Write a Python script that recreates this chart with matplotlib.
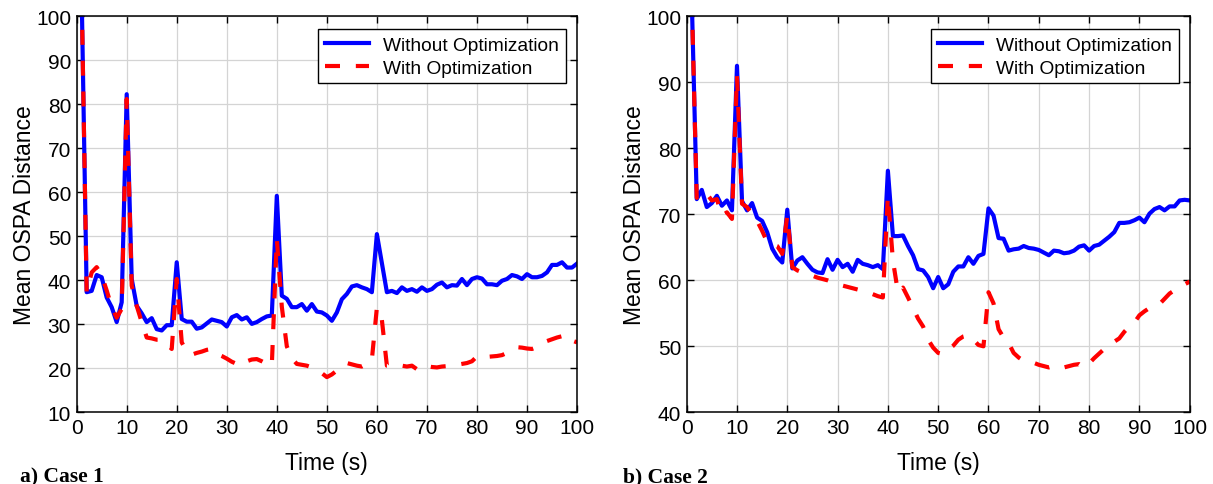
import numpy as np
import matplotlib
matplotlib.use("Agg")
import matplotlib.pyplot as plt

plt.rcParams['font.family'] = ['Liberation Sans', 'DejaVu Sans']

# time samples (s)
time = np.arange(1, 101)

# Case 1
case1_without = [
    105, 37.3, 37.6, 41.2, 40.7, 36.1, 33.9, 30.5, 35.0, 82.3,
    40.3, 34.2, 32.5, 30.5, 31.4, 28.9, 28.6, 29.8, 29.8, 44.1,
    31.2, 30.6, 30.6, 29.0, 29.3, 30.2, 31.1, 30.8, 30.5, 29.5,
    31.6, 32.1, 31.1, 31.6, 30.1, 30.5, 31.2, 31.8, 32.0, 59.2,
    36.5, 35.8, 33.9, 33.9, 34.6, 33.1, 34.6, 32.9, 32.7, 32.0,
    30.8, 32.7, 35.7, 36.9, 38.6, 38.9, 38.4, 38.0, 37.3, 50.5,
    43.9, 37.3, 37.6, 37.1, 38.4, 37.6, 38.0, 37.4, 38.4, 37.6,
    38.0, 39.0, 39.5, 38.4, 38.9, 38.8, 40.3, 38.9, 40.3, 40.7,
    40.4, 39.1, 39.1, 38.9, 39.9, 40.3, 41.2, 40.9, 40.3, 41.4,
    40.7, 40.7, 41.0, 41.8, 43.5, 43.5, 44.1, 42.9, 42.9, 43.8,
]
case1_with = [
    105, 37.3, 41.8, 43.0, 41.1, 37.7, 33.9, 31.5, 33.5, 81.2,
    38.8, 34.2, 30.5, 27.0, 26.8, 26.5, 26.5, 25.5, 24.4, 40.3,
    25.9, 23.8, 23.1, 23.5, 23.8, 24.2, 24.4, 23.3, 22.8, 22.2,
    21.5, 21.0, 20.6, 21.6, 22.0, 22.1, 21.6, 21.0, 20.6, 49.4,
    34.0, 25.0, 22.3, 21.0, 20.8, 20.6, 20.2, 19.5, 18.9, 18.0,
    18.6, 19.5, 20.4, 21.2, 20.9, 20.6, 20.4, 21.0, 22.0, 33.8,
    31.0, 20.6, 20.6, 20.6, 20.6, 20.4, 20.6, 19.8, 20.7, 20.5,
    20.3, 20.2, 20.4, 20.5, 20.6, 20.8, 21.0, 21.2, 21.6, 22.7,
    22.8, 22.6, 22.7, 22.8, 23.0, 23.5, 24.1, 24.8, 24.7, 24.5,
    24.4, 24.8, 25.5, 26.2, 26.6, 27.0, 27.3, 27.6, 26.3, 25.9,
]

# Case 2
case2_without = [
    103, 72.3, 73.7, 71.1, 71.7, 72.8, 71.3, 72.1, 70.6, 92.5,
    72.0, 70.6, 71.7, 69.5, 69.0, 67.3, 64.8, 63.5, 62.7, 70.7,
    61.8, 63.0, 63.5, 62.5, 61.6, 61.2, 61.1, 63.2, 61.6, 63.1,
    62.0, 62.5, 61.3, 63.1, 62.5, 62.3, 62.0, 62.3, 61.7, 76.6,
    66.7, 66.7, 66.8, 65.2, 63.8, 61.7, 61.5, 60.5, 58.8, 60.5,
    58.8, 59.4, 61.3, 62.1, 62.1, 63.5, 62.5, 63.7, 64.0, 70.9,
    69.8, 66.4, 66.3, 64.5, 64.7, 64.8, 65.2, 64.9, 64.8, 64.6,
    64.2, 63.8, 64.5, 64.4, 64.1, 64.2, 64.5, 65.1, 65.3, 64.5,
    65.2, 65.4, 66.0, 66.6, 67.3, 68.7, 68.7, 68.8, 69.1, 69.5,
    68.8, 70.1, 70.8, 71.1, 70.6, 71.2, 71.2, 72.1, 72.2, 72.1,
]
case2_with = [
    103, 72.5, 73.4, 73.1, 72.1, 72.3, 69.8, 70.3, 69.3, 91.0,
    71.6, 71.1, 70.0, 69.0, 67.5, 65.8, 65.5, 65.2, 64.0, 69.8,
    62.0, 61.5, 61.2, 61.0, 60.7, 60.4, 60.2, 60.0, 59.7, 59.4,
    59.2, 59.0, 58.8, 58.6, 58.4, 58.2, 57.9, 57.6, 57.4, 72.8,
    63.0, 58.2, 58.9, 57.4, 55.8, 54.2, 53.0, 51.0, 49.8, 49.0,
    48.8, 49.5, 50.1, 51.0, 51.5, 51.7, 51.0, 50.2, 50.0, 58.2,
    56.5, 52.6, 51.3, 50.5, 49.0, 48.3, 47.8, 47.7, 47.5, 47.2,
    47.0, 46.8, 47.0, 47.1, 46.8, 47.0, 47.2, 47.3, 46.8, 47.4,
    48.2, 48.9, 49.6, 50.2, 50.7, 51.2, 52.2, 53.0, 53.6, 54.7,
    55.3, 55.8, 56.0, 56.4, 57.2, 58.0, 58.5, 59.0, 59.4, 59.8,
]

fig = plt.figure(figsize=(12.13, 4.85), dpi=100)
ax1 = fig.add_axes([0.0632, 0.1478, 0.4125, 0.8165])
ax2 = fig.add_axes([0.5661, 0.1478, 0.4147, 0.8165])

panels = [
    (ax1, case1_without, case1_with, (10, 100), np.arange(10, 101, 10), 'a) Case 1'),
    (ax2, case2_without, case2_with, (40, 100), np.arange(40, 101, 10), 'b) Case 2'),
]

for ax, without, withopt, ylim, yticks, tag in panels:
    ax.plot(time, without, color='#0000ff', lw=3, label='Without Optimization')
    ax.plot(time, withopt, color='#ff0000', lw=3, dashes=(3.6, 3.8),
            label='With Optimization')
    ax.set_xlim(0, 100)
    ax.set_ylim(*ylim)
    ax.set_xticks(np.arange(0, 101, 10))
    ax.set_yticks(yticks)
    ax.grid(True, color='#d4d4d4', lw=0.9)
    ax.set_axisbelow(True)
    ax.tick_params(direction='in', top=True, right=True, length=5,
                   labelsize=15, width=1, pad=4)
    for s in ax.spines.values():
        s.set_linewidth(1.1)
    ax.set_xlabel('Time (s)', fontsize=16.5, labelpad=10)
    ax.set_ylabel('Mean OSPA Distance', fontsize=16.5, labelpad=0)
    leg = ax.legend(loc='upper right', bbox_to_anchor=(0.978, 0.967),
                    fontsize=13.8, fancybox=False, framealpha=1,
                    edgecolor='black', borderaxespad=0,
                    handlelength=2.3, handletextpad=0.75, borderpad=0.35,
                    labelspacing=0.3)
    leg.get_frame().set_linewidth(1.0)

fig.text(20 / 1213, 1 - 477 / 485, 'a) Case 1', family='Liberation Serif',
         weight='bold', fontsize=15.5, va='center', ha='left')
fig.text(623 / 1213, 1 - 477 / 485, 'b) Case 2', family='Liberation Serif',
         weight='bold', fontsize=15.5, va='center', ha='left')

fig.savefig('out.png', dpi=100)
